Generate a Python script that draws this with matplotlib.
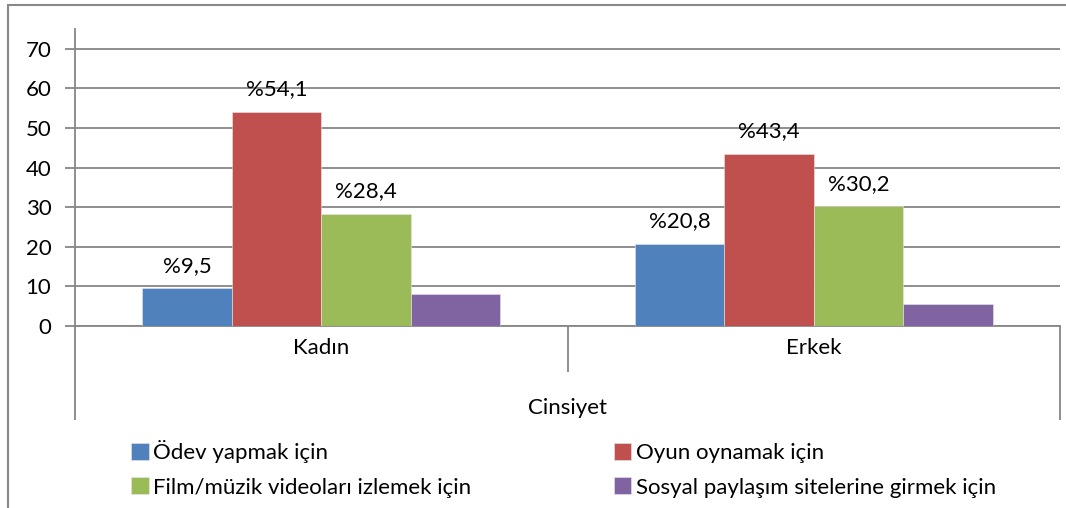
import matplotlib.pyplot as plt
import matplotlib.patches as mpatches
import numpy as np

plt.rcParams['font.family'] = ['Lato', 'DejaVu Sans']

# categories and series
categories = ['Kadın', 'Erkek']
series_names = ['Ödev yapmak için', 'Oyun oynamak için',
                'Film/müzik videoları izlemek için',
                'Sosyal paylaşım sitelerine girmek için']
odev = [9.5, 20.8]
oyun = [54.1, 43.4]
film = [28.4, 30.2]
sosyal = [8.0, 5.6]
labelled = [True, True, True, False]
colors = ['#4F81BD', '#C0504D', '#9BBB59', '#8064A2']
group_title = 'Cinsiyet'

W, H = 1066, 508
FS = 16
fig = plt.figure(figsize=(W / 100, H / 100), dpi=100)
ax = fig.add_axes([75 / W, (H - 326) / H, (1060 - 75) / W, (326 - 29) / H])

grid_c = '#868686'
x = np.arange(len(categories))
bw = 1 / 5.5
handles = []
for i, vals in enumerate([odev, oyun, film, sosyal]):
    pos = x + (i - 1.5) * bw
    bars = ax.bar(pos, vals, width=bw, color=colors[i], edgecolor='#e8e8e8',
                  linewidth=0.4, zorder=3, label=series_names[i])
    handles.append(bars)
    if labelled[i]:
        for px, v in zip(pos, vals):
            ax.annotate('%' + f'{v:.1f}'.replace('.', ','), (px, v),
                        xytext=(0, 12), textcoords='offset points',
                        ha='center', va='baseline', fontsize=FS, color='black')

ax.set_xlim(-0.5, 1.5)
ax.set_ylim(0, 75)
ax.set_yticks(np.arange(0, 71, 10))
ax.yaxis.grid(True, color=grid_c, linewidth=1.3, zorder=0)
ax.tick_params(axis='y', length=7, width=1.3, color=grid_c, labelsize=FS, pad=10)
ax.set_xticks(x)
ax.set_xticklabels(categories)
ax.tick_params(axis='x', length=0, labelsize=FS, pad=9)
for s in ['top', 'right']:
    ax.spines[s].set_visible(False)
for s in ['left', 'bottom']:
    ax.spines[s].set_color(grid_c)
    ax.spines[s].set_linewidth(1.3)

# multi-level category axis lines below the plot
xt = ax.get_xaxis_transform()
ax.vlines([-0.5, 1.5], -0.3165, 0, transform=xt, colors=grid_c, lw=1.3, clip_on=False)
ax.vlines([0.5], -0.155, 0, transform=xt, colors=grid_c, lw=1.3, clip_on=False)
ax.text(0.5, -0.275, group_title, transform=xt, ha='center', va='center', fontsize=FS)

# legend in two columns
order = [0, 2, 1, 3]
fig.legend([handles[k] for k in order], [series_names[k] for k in order],
           ncol=2, loc='upper left', bbox_to_anchor=(131 / W, 1 - 440 / H),
           frameon=False, fontsize=FS, handlelength=0.8, handleheight=0.8,
           handletextpad=0.2, columnspacing=6.4, labelspacing=0.65,
           borderpad=0, borderaxespad=0)

# chart border
fig.patches.append(mpatches.Rectangle((8 / W, -0.1), 1.2, 1 - 5 / H + 0.1,
                                      transform=fig.transFigure, fill=False,
                                      edgecolor='#888888', linewidth=1.5))

fig.savefig('out.png', dpi=100)
